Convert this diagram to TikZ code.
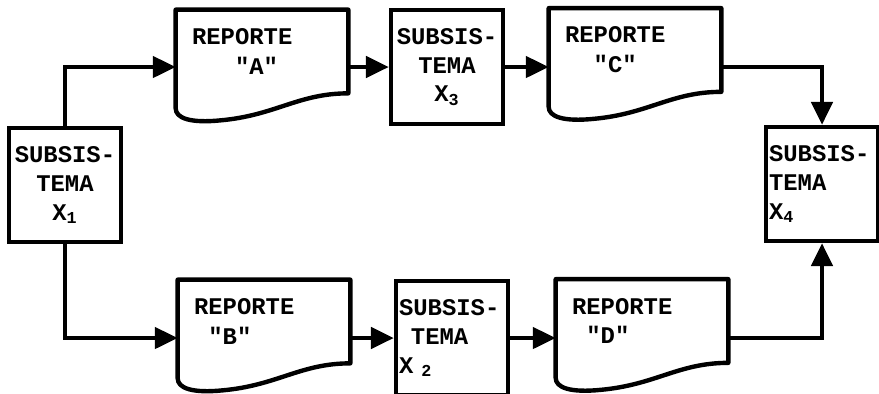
\documentclass[tikz,border=0pt]{standalone}
\usepackage{fontspec}
\setmonofont{Liberation Mono}
\usetikzlibrary{calc,arrows.meta}

\tikzset{
  thickline/.style={line width=2.5pt},
  box/.style={draw, thickline, text width=2.12cm, inner xsep=0.06cm,
    minimum height=2.28cm, font=\ttfamily\bfseries\fontsize{13.6}{16.5}\selectfont},
  report/.style={text width=2.8cm, inner xsep=0.32cm, minimum height=1.66cm,
    align=left, font=\ttfamily\bfseries\fontsize{13.6}{17}\selectfont}
}

\begin{document}
\begin{tikzpicture}[x=0.02cm, y=-0.02cm, >={Triangle[length=13pt,width=12pt]}]

  \useasboundingbox (0,0) rectangle (879,393);

  % subsistemas
  \node[box, align=center] (x1) at (65,185)  {SUBSIS-\\TEMA\\X\textsubscript{1}};
  \node[box, align=center] (x3) at (447,67)  {SUBSIS-\\TEMA\\X\textsubscript{3}};
  \node[box, align=left]   (x2) at (452,338) {SUBSIS-\\\hspace{0.5em}TEMA\\X\ \textsubscript{2}};
  \node[box, align=left]   (x4) at (822,184) {SUBSIS-\\TEMA\\X\textsubscript{4}};

  % reportes
  \node[report] (ra) at (262,51.5) {REPORTE\\\phantom{XXX}"A"};
  \node[report] (rc) at (635,50)   {REPORTE\\\phantom{XX}"C"};
  \node[report] (rb) at (264,321.5) {REPORTE\\\phantom{X}"B"};
  \node[report] (rd) at (642,321)  {REPORTE\\\phantom{X}"D"};

  % contorno de documento con borde ondulado
  \foreach \r in {ra,rb,rc,rd} {
    \draw[thickline, line join=round]
      (\r.north west) -- (\r.north east) -- (\r.south east)
      .. controls ($(\r.south east)+(-50,0)$) and ($(\r.south west)+(100,22)$) ..
      ($(\r.south west)+(45,27)$)
      .. controls ($(\r.south west)+(15,30)$) and ($(\r.south west)+(0,25)$) ..
      ($(\r.south west)+(0,15)$) -- cycle;
  }

  % flujo superior
  \draw[thickline, ->] (x1.north) |- (ra.west |- x3.west);
  \draw[thickline, ->] (ra.east |- x3.west) -- (x3.west);
  \draw[thickline, ->] (x3.east) -- (rc.west |- x3.east);
  \draw[thickline, ->] (rc.east |- x3.east) -| (x4.north);

  % flujo inferior
  \draw[thickline, ->] (x1.south) |- (rb.west |- x2.west);
  \draw[thickline, ->] (rb.east |- x2.west) -- (x2.west);
  \draw[thickline, ->] (x2.east) -- (rd.west |- x2.east);
  \draw[thickline, ->] (rd.east |- x2.east) -| (x4.south);

\end{tikzpicture}
\end{document}
